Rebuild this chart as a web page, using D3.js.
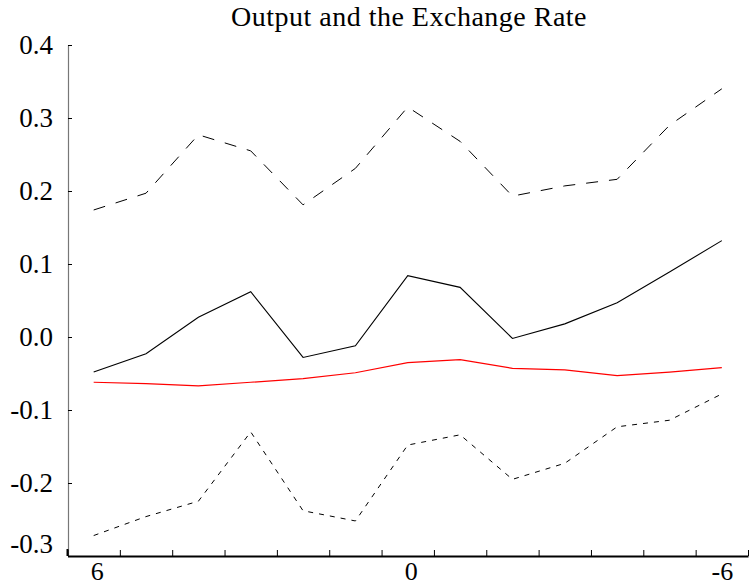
<!DOCTYPE html>
<html>
<head>
<meta charset="utf-8">
<script src="https://cdn.jsdelivr.net/npm/d3@7"></script>
<style>
  html, body { margin: 0; padding: 0; background: #fff; }
  svg { display: block; }
</style>
</head>
<body>
<svg id="chart" width="749" height="587"></svg>
<script>
// ---- data ----
const horizons = [6, 5, 4, 3, 2, 1, 0, -1, -2, -3, -4, -5, -6];
const estimate = [-0.048, -0.023, 0.027, 0.062, -0.028, -0.012, 0.084, 0.068, -0.002, 0.018, 0.047, 0.089, 0.132];
const upperBand = [0.174, 0.197, 0.277, 0.255, 0.181, 0.231, 0.315, 0.268, 0.193, 0.207, 0.216, 0.290, 0.340];
const lowerBand = [-0.272, -0.246, -0.225, -0.130, -0.238, -0.252, -0.148, -0.134, -0.195, -0.173, -0.123, -0.114, -0.078];
const redLine = [-0.062, -0.064, -0.067, -0.062, -0.057, -0.049, -0.035, -0.031, -0.043, -0.045, -0.053, -0.048, -0.042];
const yTicks = [-0.3, -0.2, -0.1, 0.0, 0.1, 0.2, 0.3, 0.4];
const xLabelTicks = [6, 0, -6];
const xEdgeTicks = [6.5, 5.5, 4.5, 3.5, 2.5, 1.5, 0.5, -0.5, -1.5, -2.5, -3.5, -4.5, -5.5, -6.5];
const title = "Output and the Exchange Rate";

// ---- layout ----
const FONT = "'Liberation Serif', 'Times New Roman', Times, serif";
const svg = d3.select("#chart");
const mLeft = 68, mRight = 748, mTop = 45, mBottom = 556;

const x = d3.scaleLinear().domain([6.5, -6.5]).range([mLeft - 0.5, mRight]);
const y = d3.scaleLinear().domain([-0.3, 0.4]).range([mBottom, mTop]);

// title
svg.append("text")
  .attr("x", 409).attr("y", 26)
  .attr("text-anchor", "middle")
  .attr("font-family", FONT)
  .attr("font-size", 28)
  .attr("letter-spacing", 0.5)
  .attr("fill", "#000")
  .text(title);

// y axis
const yAxis = svg.append("g")
  .attr("transform", `translate(${mLeft},0)`)
  .call(d3.axisLeft(y).tickValues(yTicks).tickSizeInner(-4).tickSizeOuter(0).tickPadding(15)
    .tickFormat(d => d.toFixed(1)));
yAxis.attr("font-size", 27).attr("font-family", FONT);
yAxis.select(".domain").attr("stroke", "#777").attr("stroke-width", 1.2);
yAxis.selectAll(".tick line").attr("stroke", "#000");
yAxis.selectAll(".tick text")
  .attr("font-family", FONT)
  .attr("dy", (d) => d === -0.3 ? "-0.12em" : "0.32em");

// black corner segment at the bottom of y axis
svg.append("line")
  .attr("x1", mLeft - 0.5).attr("x2", mLeft - 0.5)
  .attr("y1", y(-0.3) - 7).attr("y2", y(-0.3))
  .attr("stroke", "#000").attr("stroke-width", 2);

// x axis: tick marks at category edges
const xAxis = svg.append("g")
  .attr("transform", `translate(0,${mBottom})`)
  .call(d3.axisBottom(x).tickValues(xEdgeTicks).tickSizeInner(-6).tickSizeOuter(0).tickFormat(""));
xAxis.select(".domain").attr("stroke", "#000").attr("stroke-width", 2);
xAxis.selectAll(".tick line").attr("stroke", "#000");

// x axis labels
const xLab = svg.append("g")
  .attr("transform", `translate(0,${mBottom})`)
  .call(d3.axisBottom(x).tickValues(xLabelTicks).tickSize(0).tickPadding(6).tickFormat(d => String(d)));
xLab.select(".domain").remove();
xLab.attr("font-size", 26).attr("font-family", FONT);
xLab.selectAll(".tick text").attr("font-family", FONT).attr("dx", d => d === -6 ? 0 : 3);

// lines
const line = d3.line().x((d, i) => x(horizons[i])).y(d => y(d));

svg.append("path").datum(upperBand)
  .attr("d", line).attr("fill", "none").attr("stroke", "#000")
  .attr("stroke-width", 1).attr("stroke-dasharray", "12,11");

svg.append("path").datum(lowerBand)
  .attr("d", line).attr("fill", "none").attr("stroke", "#000")
  .attr("stroke-width", 1).attr("stroke-dasharray", "5,6");

svg.append("path").datum(redLine)
  .attr("d", line).attr("fill", "none").attr("stroke", "#ff0000")
  .attr("stroke-width", 1.2);

svg.append("path").datum(estimate)
  .attr("d", line).attr("fill", "none").attr("stroke", "#000")
  .attr("stroke-width", 1.1);
</script>
</body>
</html>
